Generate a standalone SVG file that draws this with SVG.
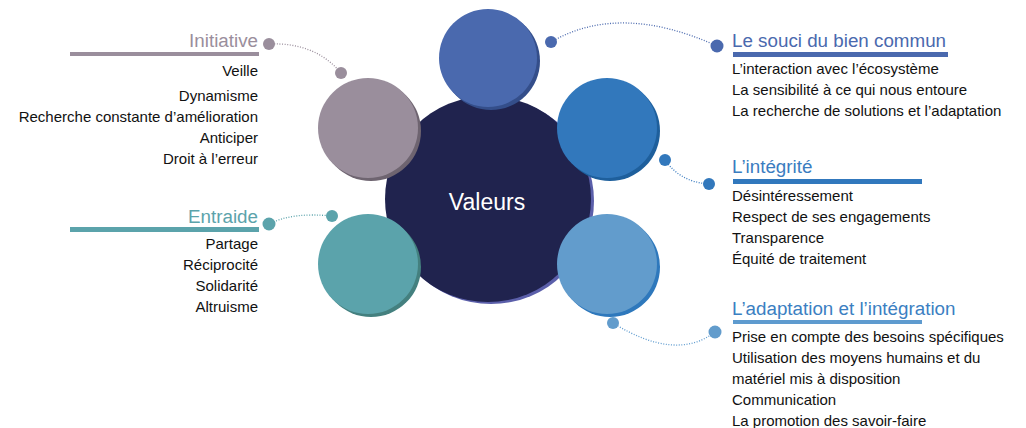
<svg xmlns="http://www.w3.org/2000/svg" width="1026" height="428" viewBox="0 0 1026 428">
<style>
text{font-family:"Liberation Sans",Arial,sans-serif}
.h{font-size:18.8px}
.i{font-size:15px;fill:#111}
.r{text-anchor:end}
.c{fill:none;stroke-width:1.3;stroke-dasharray:1 1.6}
</style>
<rect width="1026" height="428" fill="#fff"/>
<g id="connectors">
<path class="c" stroke="#9a8e9c" d="M269,44 Q315,42 341,73"/>
<path class="c" stroke="#4a69ae" d="M551,42 Q620,2 717,46"/>
<path class="c" stroke="#3a7cc0" d="M665,160 Q680,182 709,184"/>
<path class="c" stroke="#5e9bcf" d="M613,323 Q676,362 715,332"/>
<path class="c" stroke="#5ba3ab" d="M269,224 Q292,212 332,216"/>
</g>
<g id="valeurs">
<circle cx="491" cy="201" r="103" fill="#5b5faa"/>
<circle cx="488" cy="199" r="103" fill="#20234e"/>
<text x="487" y="210" fill="#fff" font-size="23" text-anchor="middle">Valeurs</text>
</g>
<g id="bien-commun">
<circle cx="491" cy="61" r="49" fill="#344e8a"/>
<circle cx="488" cy="58" r="49" fill="#4a69ae"/>
<circle cx="551" cy="42" r="6" fill="#4a69ae"/>
<circle cx="717" cy="46" r="6.5" fill="#4a69ae"/>
<text class="h" x="732" y="47" fill="#4a69ae">Le souci du bien commun</text>
<rect x="733" y="52" width="215" height="5" fill="#4a69ae"/>
<text class="i" x="732" y="74">L’interaction avec l’écosystème</text>
<text class="i" x="732" y="95">La sensibilité à ce qui nous entoure</text>
<text class="i" x="732" y="116">La recherche de solutions et l’adaptation</text>
</g>
<g id="initiative">
<circle cx="371" cy="131" r="50" fill="#6e6470"/>
<circle cx="368" cy="128" r="50" fill="#9a8e9c"/>
<circle cx="341" cy="73" r="6" fill="#9a8e9c"/>
<circle cx="269" cy="44" r="6" fill="#9a8e9c"/>
<text class="h r" x="258" y="47" fill="#9a8e9c">Initiative</text>
<rect x="70" y="52" width="189" height="4" fill="#9a8e9c"/>
<text class="i r" x="258" y="76">Veille</text>
<text class="i r" x="258" y="101">Dynamisme</text>
<text class="i r" x="258" y="122">Recherche constante d’amélioration</text>
<text class="i r" x="258" y="143">Anticiper</text>
<text class="i r" x="258" y="164">Droit à l’erreur</text>
</g>
<g id="integrite">
<circle cx="610" cy="131" r="50" fill="#1e5f9c"/>
<circle cx="607" cy="128" r="50" fill="#3278bc"/>
<circle cx="665" cy="160" r="6" fill="#3278bc"/>
<circle cx="709" cy="184" r="6" fill="#3278bc"/>
<text class="h" x="732" y="173" fill="#3a7cc0">L’intégrité</text>
<rect x="733" y="179" width="189" height="5" fill="#3178bd"/>
<text class="i" x="732" y="201">Désintéressement</text>
<text class="i" x="732" y="222">Respect de ses engagements</text>
<text class="i" x="732" y="243">Transparence</text>
<text class="i" x="732" y="264">Équité de traitement</text>
</g>
<g id="entraide">
<circle cx="371" cy="267" r="50" fill="#44807f"/>
<circle cx="368" cy="264" r="50" fill="#5ba3ab"/>
<circle cx="332" cy="216" r="6" fill="#5ba3ab"/>
<circle cx="269" cy="224" r="6.5" fill="#5ba3ab"/>
<text class="h r" x="258" y="223" fill="#5ba3ab">Entraide</text>
<rect x="70" y="227" width="189" height="5" fill="#5ba3ab"/>
<text class="i r" x="258" y="249">Partage</text>
<text class="i r" x="258" y="270">Réciprocité</text>
<text class="i r" x="258" y="291">Solidarité</text>
<text class="i r" x="258" y="312">Altruisme</text>
</g>
<g id="adaptation">
<circle cx="610" cy="267" r="50" fill="#2e78bc"/>
<circle cx="607" cy="264" r="50" fill="#629ccc"/>
<circle cx="613" cy="323" r="6" fill="#629ccc"/>
<circle cx="715" cy="332" r="6.5" fill="#629ccc"/>
<text class="h" x="732" y="315" fill="#3b7fc2">L’adaptation et l’intégration</text>
<rect x="733" y="320" width="189" height="4" fill="#5e9bcf"/>
<text class="i" x="732" y="342">Prise en compte des besoins spécifiques</text>
<text class="i" x="732" y="363">Utilisation des moyens humains et du</text>
<text class="i" x="732" y="384">matériel mis à disposition</text>
<text class="i" x="732" y="405">Communication</text>
<text class="i" x="732" y="426">La promotion des savoir-faire</text>
</g>
</svg>
